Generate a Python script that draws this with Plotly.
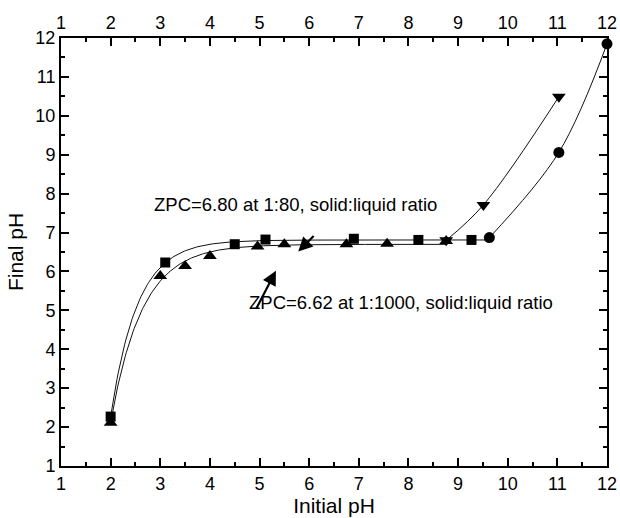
import numpy as np
import plotly.graph_objects as go

# ---- data ----
sq_x = [2.0, 3.1, 4.5, 5.12, 6.9, 8.2, 9.27]
sq_y = [2.27, 6.23, 6.70, 6.82, 6.84, 6.81, 6.81]

tu_x = [2.0, 3.0, 3.5, 4.0, 4.96, 5.5, 6.75, 7.57, 8.76]
tu_y = [2.11, 5.88, 6.14, 6.40, 6.64, 6.70, 6.70, 6.71, 6.78]

td_x = [8.76, 9.51, 11.03]
td_y = [6.80, 7.71, 10.49]

ci_x = [9.63, 11.03, 12.0]
ci_y = [6.87, 9.06, 11.85]

x_ticks = list(range(1, 13))
y_ticks = list(range(1, 13))

label_80 = "ZPC=6.80 at 1:80, solid:liquid ratio"
label_1000 = "ZPC=6.62 at 1:1000, solid:liquid ratio"


def sat_fit(x, y, x0):
    """least-squares fit of y = A - B*exp(-k(x-x0))"""
    x = np.asarray(x, float)
    y = np.asarray(y, float)
    best = None
    for k in np.linspace(0.3, 6.0, 571):
        e = np.exp(-k * (x - x0))
        M = np.column_stack([np.ones_like(x), -e])
        coef, *_ = np.linalg.lstsq(M, y, rcond=None)
        sse = float(np.sum((M @ coef - y) ** 2))
        if best is None or sse < best[0]:
            best = (sse, coef[0], coef[1], k)
    return best[1], best[2], best[3]


def fit_curve(x, y, x_end):
    x0 = min(x)
    A, B, k = sat_fit(x, y, x0)
    xs = np.linspace(x0, x_end, 300)
    return xs, A - B * np.exp(-k * (xs - x0))


fx_sq, fy_sq = fit_curve(sq_x, sq_y, ci_x[0])
fx_tu, fy_tu = fit_curve(tu_x, tu_y, td_x[0])

LINE = dict(color="#111111", width=1)
MK = dict(color="black", size=10)

fig = go.Figure()
fig.add_trace(go.Scatter(x=fx_sq, y=fy_sq, mode="lines", line=LINE, hoverinfo="skip"))
fig.add_trace(go.Scatter(x=fx_tu, y=fy_tu, mode="lines", line=LINE, hoverinfo="skip"))
fig.add_trace(go.Scatter(x=td_x, y=td_y, mode="lines", line=dict(LINE, shape="spline"), hoverinfo="skip"))
fig.add_trace(go.Scatter(x=ci_x, y=ci_y, mode="lines", line=dict(LINE, shape="spline"),
                         hoverinfo="skip", cliponaxis=False))

fig.add_trace(go.Scatter(x=sq_x, y=sq_y, mode="markers",
                         marker=dict(MK, symbol="square", size=10), cliponaxis=False))
fig.add_trace(go.Scatter(x=tu_x, y=tu_y, mode="markers",
                         marker=dict(MK, symbol="triangle-up", size=12), cliponaxis=False))
fig.add_trace(go.Scatter(x=td_x, y=td_y, mode="markers",
                         marker=dict(MK, symbol="triangle-down", size=12), cliponaxis=False))
fig.add_trace(go.Scatter(x=ci_x, y=ci_y, mode="markers",
                         marker=dict(MK, symbol="circle", size=11), cliponaxis=False))
# invisible trace for the top axis
fig.add_trace(go.Scatter(x=[1, 12], y=[1, 1], xaxis="x2", mode="markers",
                         marker=dict(opacity=0), hoverinfo="skip"))

axis_common = dict(
    range=[1, 12], tickmode="array", showline=True, linewidth=2, linecolor="black",
    ticks="inside", ticklen=8, tickwidth=1.5, tickcolor="black",
    showgrid=False, zeroline=False, automargin=False,
    minor=dict(dtick=0.5, ticks="inside", ticklen=4, tickwidth=1.5, tickcolor="black"),
    tickfont=dict(size=18, color="black"),
)

fig.update_layout(
    width=620, height=518,
    margin=dict(l=61, r=13, t=38, b=52),
    plot_bgcolor="white", paper_bgcolor="white",
    showlegend=False,
    font=dict(family="Liberation Sans, Arial, sans-serif", size=18, color="black"),
    xaxis=dict(axis_common, tickvals=x_ticks, ticktext=[str(v) for v in x_ticks],
               title=dict(text="Initial pH", font=dict(size=21), standoff=6)),
    xaxis2=dict(axis_common, tickvals=x_ticks, ticktext=[str(v) for v in x_ticks],
                overlaying="x", side="top", anchor="y"),
    yaxis=dict(axis_common, tickvals=y_ticks, ticktext=[str(v) for v in y_ticks],
               mirror="ticks",
               title=dict(text="Final pH", font=dict(size=21), standoff=6)),
)

fig.add_annotation(x=2.83, y=7.71, xref="x", yref="y", text=label_80, showarrow=False,
                   xanchor="left", yanchor="middle", font=dict(size=18.5))
fig.add_annotation(x=4.75, y=5.19, xref="x", yref="y", text=label_1000, showarrow=False,
                   xanchor="left", yanchor="middle", font=dict(size=18.5))

fig.add_annotation(x=5.78, y=6.51, ax=6.12, ay=6.95, xref="x", yref="y", axref="x", ayref="y",
                   text="", showarrow=True, arrowhead=2, arrowsize=1.3, arrowwidth=2.2, arrowcolor="black")
fig.add_annotation(x=5.33, y=6.02, ax=4.92, ay=5.01, xref="x", yref="y", axref="x", ayref="y",
                   text="", showarrow=True, arrowhead=2, arrowsize=1.3, arrowwidth=2.2, arrowcolor="black")

fig.write_html("out.html")
